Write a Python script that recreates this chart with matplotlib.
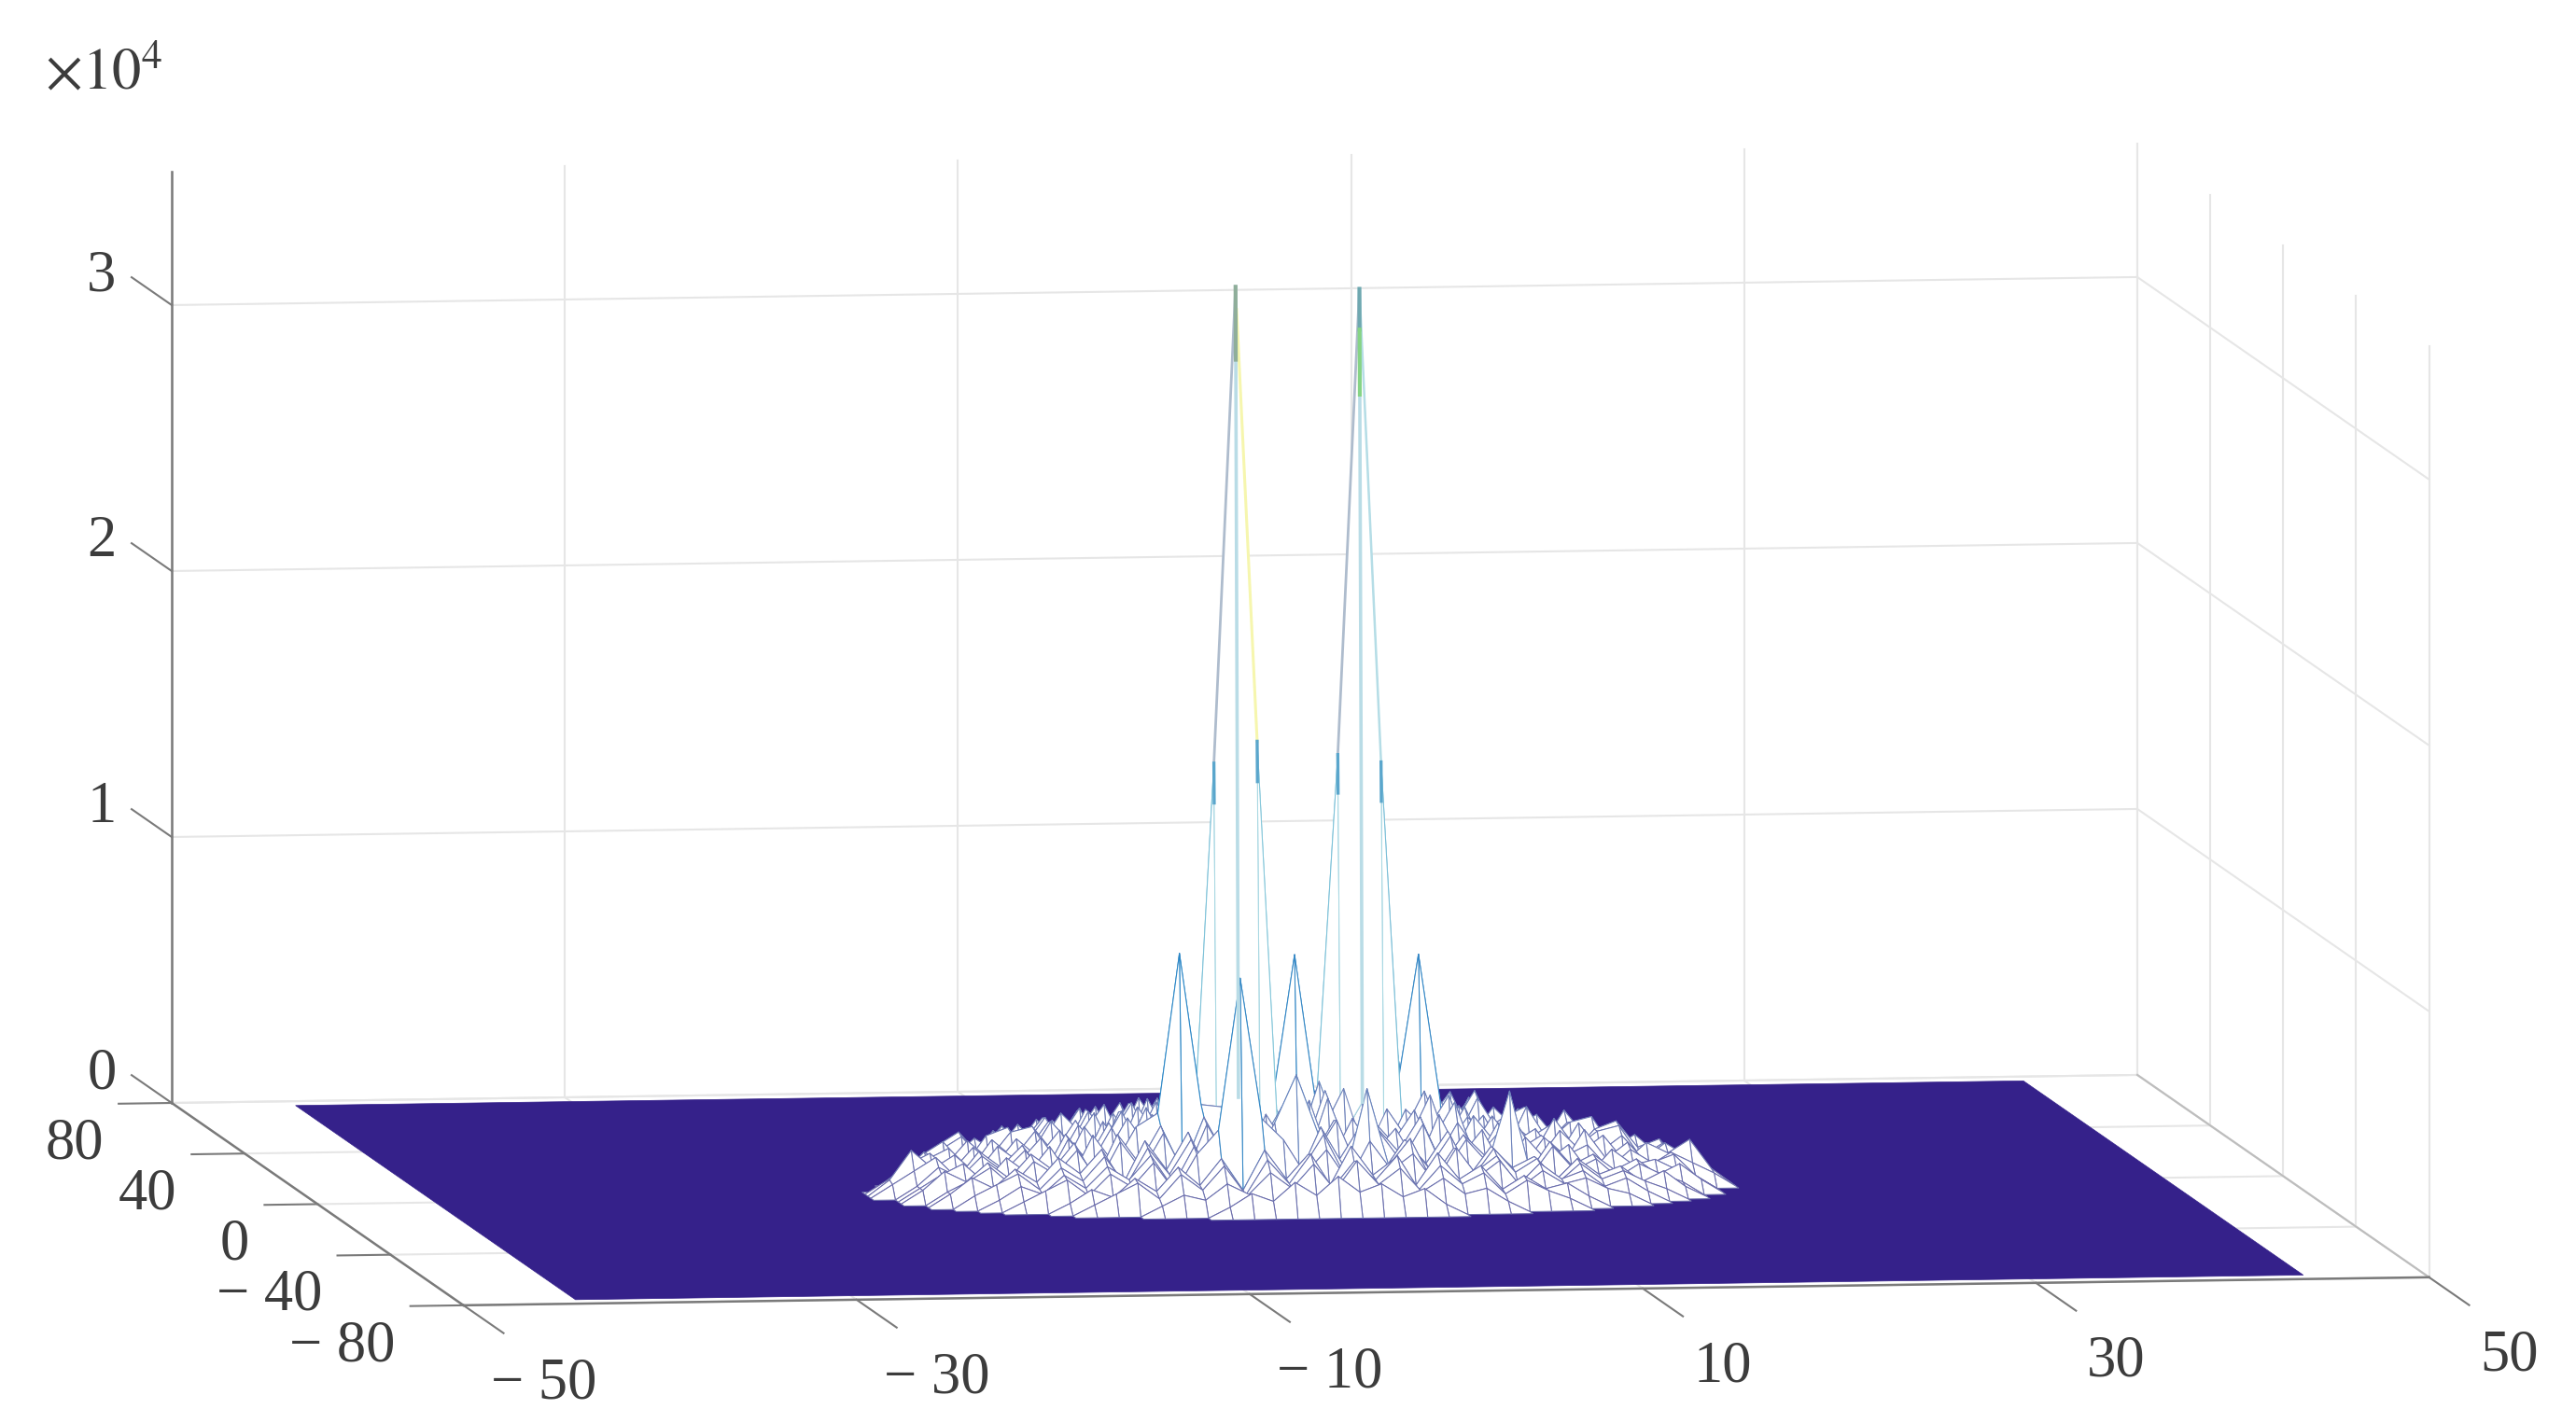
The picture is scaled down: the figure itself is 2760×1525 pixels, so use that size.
import numpy as np
import matplotlib
matplotlib.use('Agg')
import matplotlib.pyplot as plt
from matplotlib.colors import LinearSegmentedColormap
from mpl_toolkits.mplot3d import proj3d
from mpl_toolkits.mplot3d.art3d import Poly3DCollection

plt.rcParams['font.family'] = ['Liberation Serif', 'DejaVu Serif']
plt.rcParams['mathtext.fontset'] = 'stix'

# axis ticks
x_ticks = [-50, -30, -10, 10, 30, 50]
x_labels = ['\u2212 50', '\u2212 30', '\u2212 10', '10', '30', '50']
y_ticks = [80, 40, 0, -40, -80]
y_labels = ['80', '40', '0', '\u2212 40', '\u2212 80']
z_ticks = [0, 1, 2, 3]
z_labels = ['0', '1', '2', '3']
x_lim = [-50, 50]
y_lim = [-80, 80]
z_lim = [0, 3.5]

# flat part of the mesh
floor_x = [-44, 43.9]
floor_y = [-76.5, 77]

# mesh spacing around the centre
dx = 1.1
dy = 1.6

# ragged disc, values in 1/100 of 10^4, one row per y index, back row first
row_m = list(range(13, -14, -1))
disc_rows = [
    [14, 24, 11, 27, 16, 29, 13, 26, 18, 23, 12],
    [10, 21, 13, 26, 12, 28, 17, 30, 14, 27, 19, 31, 15, 25, 11, 22, 9],
    [8, 19, 12, 24, 10, 27, 15, 29, 13, 26, 18, 31, 14, 28, 20, 25, 12, 29, 16, 23, 11, 20, 8],
    [9, 18, 11, 23, 14, 26, 10, 28, 16, 30, 13, 27, 19, 32, 15, 29, 12, 26, 17, 30, 14, 24, 11, 19, 8],
    [7, 17, 10, 21, 13, 25, 9, 24, 15, 28, 12, 30, 17, 26, 14, 31, 18, 27, 13, 29, 16, 33, 12, 27, 15, 22, 10, 16, 7],
    [8, 15, 10, 20, 12, 24, 16, 27, 11, 29, 14, 26, 18, 31, 13, 28, 17, 33, 12, 29, 15, 26, 19, 30, 13, 24, 16, 21, 11, 17, 7],
    [7, 16, 9, 19, 13, 23, 10, 26, 15, 28, 12, 30, 17, 25, 14, 32, 19, 27, 13, 34, 16, 29, 12, 27, 18, 31, 14, 24, 11, 21, 13, 16, 6],
    [6, 14, 19, 10, 21, 13, 24, 11, 26, 16, 29, 13, 27, 18, 33, 15, 28, 12, 35, 17, 30, 14, 26, 19, 28, 13, 29, 16, 23, 11, 24, 14, 17, 9, 6],
    [6, 13, 18, 9, 20, 12, 23, 15, 10, 26, 14, 30, 17, 27, 12, 34, 19, 29, 15, 36, 13, 28, 18, 25, 11, 27, 16, 22, 26, 12, 20, 10, 18, 13, 5],
    [5, 12, 17, 8, 19, 22, 11, 24, 15, 27, 10, 29, 18, 33, 14, 28, 20, 36, 16, 31, 13, 37, 18, 26, 12, 30, 15, 24, 10, 27, 14, 21, 23, 11, 16, 9, 5],
    [6, 14, 9, 18, 11, 21, 23, 13, 25, 10, 28, 16, 31, 13, 35, 19, 27, 15, 38, 17, 29, 12, 34, 20, 26, 14, 28, 11, 23, 16, 21, 10, 19, 22, 12, 15, 6],
    [5, 12, 16, 8, 19, 12, 22, 10, 24, 15, 29, 12, 32, 18, 36, 14, 30, 20, 39, 16, 33, 13, 28, 19, 35, 14, 25, 17, 22, 10, 24, 13, 19, 21, 9, 14, 5],
    [5, 11, 15, 8, 17, 10, 20, 13, 23, 9, 26, 14, 31, 17, 35, 13, 38, 20, 30, 15, 40, 18, 32, 12, 29, 21, 34, 13, 26, 16, 21, 10, 23, 12, 18, 9, 15, 10, 5],
    [6, 17, 10, 15, 8, 18, 12, 21, 9, 25, 14, 28, 16, 33, 12, 37, 19, 41, 15, 34, 22, 38, 13, 30, 18, 35, 12, 27, 17, 24, 10, 21, 13, 19, 9, 16, 12, 17, 6],
    [5, 10, 15, 7, 17, 11, 19, 8, 23, 13, 27, 11, 30, 16, 34, 12, 36, 18, 32, 14, 38, 16, 31, 13, 28, 19, 33, 11, 25, 15, 20, 9, 22, 11, 17, 8, 13, 9, 5],
    [5, 12, 8, 16, 10, 18, 7, 22, 12, 26, 10, 29, 15, 33, 13, 35, 17, 30, 12, 36, 15, 28, 19, 31, 12, 26, 14, 23, 9, 20, 13, 17, 8, 15, 10, 13, 5],
    [5, 10, 14, 7, 16, 10, 20, 8, 24, 13, 27, 11, 30, 15, 34, 12, 31, 18, 36, 13, 29, 16, 25, 11, 30, 14, 24, 9, 21, 12, 18, 7, 16, 10, 12, 8, 5],
    [5, 12, 8, 15, 9, 18, 12, 22, 8, 25, 14, 28, 11, 31, 16, 27, 12, 33, 15, 29, 11, 26, 17, 30, 12, 23, 15, 19, 8, 20, 11, 15, 9, 13, 7, 11, 5],
    [5, 9, 14, 7, 16, 11, 20, 8, 23, 12, 26, 10, 29, 15, 32, 13, 27, 17, 30, 11, 25, 14, 28, 10, 22, 13, 18, 8, 19, 10, 14, 7, 12, 8, 5],
    [5, 11, 7, 14, 9, 18, 12, 21, 8, 24, 13, 27, 10, 25, 15, 30, 12, 26, 16, 29, 11, 23, 14, 26, 9, 20, 12, 16, 7, 15, 9, 12, 6, 10, 4],
    [5, 9, 13, 7, 15, 10, 19, 8, 22, 12, 25, 10, 28, 14, 24, 11, 29, 15, 26, 10, 23, 13, 25, 9, 20, 11, 16, 7, 14, 8, 11, 7, 4],
    [4, 9, 6, 13, 8, 16, 11, 20, 8, 23, 12, 26, 10, 24, 14, 27, 11, 22, 15, 25, 9, 21, 12, 18, 7, 15, 9, 12, 6, 9, 4],
    [4, 8, 12, 6, 14, 9, 18, 7, 21, 11, 24, 9, 26, 13, 22, 10, 25, 14, 20, 9, 22, 11, 17, 7, 13, 8, 10, 6, 4],
    [4, 9, 6, 13, 8, 17, 10, 20, 8, 23, 12, 21, 9, 24, 13, 19, 9, 21, 11, 16, 7, 12, 7, 9, 4],
    [4, 8, 12, 6, 15, 9, 18, 7, 20, 11, 22, 9, 19, 12, 21, 8, 17, 10, 14, 6, 11, 7, 4],
    [4, 8, 6, 12, 8, 16, 10, 19, 9, 20, 11, 17, 8, 13, 7, 9, 4],
    [4, 9, 6, 13, 8, 15, 9, 12, 7, 10, 4],
]

# two main spikes with their shoulders
spike_k = [-3, 3]
spike_m = [0, 2]
spike_z = [3.4, 3.37]
shoulder_k = [-4, -2, 2, 4]
shoulder_m = [0, 0, 2, 2]
shoulder_z = [1.61, 1.69, 1.62, 1.59]

# smaller peaks and the points next to them
peak_k = [-6, -7, -5, -4, -5, -3, 0, -1, 1, 5, 4, 6, 6, 5, 7, 9, -1, 2]
peak_m = [-3, -3, -3, -9, -9, -9, 2, 2, 2, 9, 9, 9, 4, 4, 4, -5, -6, -8]
peak_z = [.92, .32, .35, .87, .3, .34, .87, .33, .3, .82, .3, .28, .85, .34, .3, .4, .48, .44]

text_color = '#3c3c3c'
grid_color = '#e6e6e6'
axis_color = '#7a7a7a'
floor_color = '#35218a'
edge_cmap = LinearSegmentedColormap.from_list(
    'mesh', [(0, '#6a68a8'), (.12, '#6d83bb'), (.27, '#2a86c6'), (.5, '#86c8da'), (1, '#a9d8e2')])

W, H = 2760, 1525
fig = plt.figure(figsize=(W / 100, H / 100), dpi=100, facecolor='white')
ax = fig.add_axes([0, 0, 1, 1], projection='3d', computed_zorder=False)
ax.set_proj_type('ortho')
ax.view_init(elev=5.71, azim=-98.16)
ax.set_box_aspect((2127.5, 2202, 1002.5))
ax.set_xlim(x_lim)
ax.set_ylim(y_lim)
ax.set_zlim(z_lim)
ax.set_axis_off()


def to_px(x, y, z):
    xp, yp, _ = proj3d.proj_transform(x, y, z, ax.get_proj())
    return ax.transData.transform((xp, yp))


def label(x, y, z, s, ha):
    p = to_px(x, y, z)
    fig.text(p[0] / W, (p[1] - 7) / H, s, ha=ha, va='center', fontsize=45, color=text_color)


# fit the box to the size of the figure
ax.apply_aspect()
p0 = to_px(-50, -80, 0)
p1 = to_px(50, -80, 0)
side = H * 2106 / (p1[0] - p0[0])
ax.set_position([0, 0, side / W, side / H])
ax.apply_aspect()
q = to_px(-50, 80, 0)
ax.set_position([(184 - q[0]) / W, (H - 1182 - q[1]) / H, side / W, side / H])
ax.apply_aspect()

# grid on the floor and the two walls
for x in x_ticks:
    ax.plot([x, x], [80, 80], z_lim, color=grid_color, lw=1.5, zorder=1)
    ax.plot([x, x], y_lim, [0, 0], color=grid_color, lw=1.5, zorder=1)
for y in y_ticks:
    ax.plot([50, 50], [y, y], z_lim, color=grid_color, lw=1.5, zorder=1)
    ax.plot(x_lim, [y, y], [0, 0], color=grid_color, lw=1.5, zorder=1)
for z in z_ticks:
    ax.plot(x_lim, [80, 80], [z, z], color=grid_color, lw=1.5, zorder=1)
    ax.plot([50, 50], y_lim, [z, z], color=grid_color, lw=1.5, zorder=1)
ax.plot([50, 50], y_lim, [0, 0], color='#bdbdbd', lw=1.5, zorder=1)

# axis lines and ticks
ax.plot([-50, -50], [80, 80], z_lim, color=axis_color, lw=1.8, zorder=2)
ax.plot([-50, -50], y_lim, [0, 0], color=axis_color, lw=1.8, zorder=2)
ax.plot(x_lim, [-80, -80], [0, 0], color=axis_color, lw=1.8, zorder=2)
for x, s in zip(x_ticks, x_labels):
    ax.plot([x, x], [-80, -102], [0, 0], color=axis_color, lw=1.5, zorder=2)
    label(x - 1.2, -137, 0, s, 'center')
for y, s in zip(y_ticks, y_labels):
    ax.plot([-50, -52.7], [y, y], [0, 0], color=axis_color, lw=1.5, zorder=2)
    label(-55.9, y - 26.2, 0, s, 'right')
for z, s in zip(z_ticks, z_labels):
    ax.plot([-50, -50], [80, 102], [z, z], color=axis_color, lw=1.5, zorder=2)
    label(-50, 118.5, z - .05, s, 'center')

# flat dark floor of the mesh
fx = [floor_x[0], floor_x[1], floor_x[1], floor_x[0]]
fy = [floor_y[0], floor_y[0], floor_y[1], floor_y[1]]
floor = Poly3DCollection([list(zip(fx, fy, [0, 0, 0, 0]))], facecolors=floor_color,
                         edgecolors=floor_color, linewidths=.5, zorder=3)
ax.add_collection3d(floor)

# build the mesh heights from the typed rows
n_k = 20
n_m = 14
Z = np.zeros((2 * n_m + 1, 2 * n_k + 1))
for m, row in zip(row_m, disc_rows):
    start = n_k - len(row) // 2
    Z[m + n_m, start:start + len(row)] = np.array(row) / 100
for k, m, h in zip(peak_k + shoulder_k + spike_k,
                   peak_m + shoulder_m + spike_m,
                   peak_z + shoulder_z + spike_z):
    Z[m + n_m, k + n_k] = h

X_vals = dx * np.arange(-n_k, n_k + 1)
Y_vals = dy * np.arange(-n_m, n_m + 1)
verts = []
edges = []
for i in range(2 * n_m):
    for j in range(2 * n_k):
        cell = Z[i:i + 2, j:j + 2]
        if cell.max() <= 0:
            continue
        verts.append([(X_vals[j], Y_vals[i], Z[i, j]),
                      (X_vals[j + 1], Y_vals[i], Z[i, j + 1]),
                      (X_vals[j + 1], Y_vals[i + 1], Z[i + 1, j + 1]),
                      (X_vals[j], Y_vals[i + 1], Z[i + 1, j])])
        edges.append(edge_cmap(cell.max() / 3.4))
mesh = Poly3DCollection(verts, facecolors='white', edgecolors=edges, linewidths=.75, zorder=4)
ax.add_collection3d(mesh)


def edge_part(k0, m0, k1, m1, t0, t1, color, lw):
    # piece of one mesh edge, t runs from the first point to the second
    z0 = Z[m0 + n_m, k0 + n_k]
    z1 = Z[m1 + n_m, k1 + n_k]
    t = np.array([t0, t1])
    ax.plot(dx * (k0 + (k1 - k0) * t), dy * (m0 + (m1 - m0) * t), z0 + (z1 - z0) * t,
            color=color, lw=lw, zorder=5)


# strong colours on the long edges of the spikes
for k, m in zip(spike_k, spike_m):
    edge_part(k, m, k, m - 1, 0, 1, '#b9dce6', 2.6)
    edge_part(k, m, k - 1, m, 0, 1, '#aebccd', 2)
edge_part(-3, 0, -2, 0, .05, 1, '#f6f6ae', 2.2)
edge_part(3, 2, 4, 2, 0, 1, '#b5dde6', 1.8)
edge_part(-3, 0, -3, -1, 0, .09, '#8fae9a', 3)
edge_part(3, 2, 3, 1, 0, .05, '#6fa8b0', 3)
edge_part(3, 2, 3, 1, .05, .13, '#86d486', 3)
for k, m in zip(shoulder_k, shoulder_m):
    edge_part(k, m, k, m - 1, 0, .1, '#5aa6cc', 2.4)

fig.text(48 / W, 1 - 95 / H, r'$\times 10^{4}$', va='baseline', ha='left', fontsize=45, color=text_color)

fig.savefig('out.png', dpi=100, facecolor='white')
